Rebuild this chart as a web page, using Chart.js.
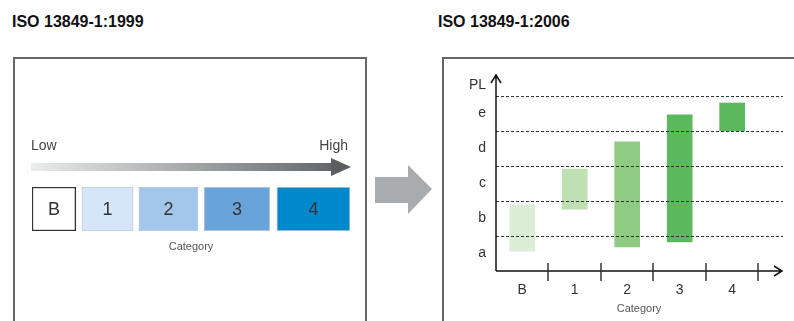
<!DOCTYPE html>
<html>
<head>
<meta charset="utf-8">
<script src="https://cdn.jsdelivr.net/npm/chart.js"></script>
<style>
  body { margin: 0; width: 794px; height: 321px; overflow: hidden; background: #fff; position: relative; font-family: "Liberation Sans", Arial, sans-serif; }
  .title { position: absolute; top: 13px; font-weight: bold; font-size: 16px; color: #111; }
  .panel { position: absolute; top: 57px; height: 300px; border: 2px solid #666; }
  canvas { position: absolute; }
  #midArrow { position: absolute; left: 375px; top: 165px; width: 57px; height: 49px; background: #a9acae;
    clip-path: polygon(0 12px, 33px 12px, 33px 0, 57px 24px, 33px 49px, 33px 38px, 0 38px); }
</style>
</head>
<body>
<div class="title" style="left:12px">ISO 13849-1:1999</div>
<div class="title" style="left:438px">ISO 13849-1:2006</div>
<div class="panel" style="left:13px; width:350px"></div>
<div class="panel" style="left:442px; width:400px"></div>
<div id="midArrow"></div>
<canvas id="oldChart" width="348" height="259" style="left:16px; top:60px"></canvas>
<canvas id="newChart" width="350" height="261" style="left:444px; top:60px"></canvas>
<script>
//==================== data ====================
// old standard: categories shown as boxes along a Low -> High scale (0..100)
var oldCats = ['B', '1', '2', '3', '4'];
var oldStart = [0, 15.7, 33.6, 54.1, 77.0];
var oldEnd = [13.8, 31.8, 52.2, 74.8, 100];
var oldColors = ['#ffffff', '#d4e6f7', '#a3c7ea', '#68a3d9', '#0088cc'];

// new standard: PL range reached by each category (a=0..1, b=1..2, ... e=4..5)
var newCats = ['B', '1', '2', '3', '4'];
var plLow = [0.57, 1.77, 0.69, 0.83, 4.0];
var plHigh = [1.89, 2.91, 3.69, 4.46, 4.8];
var newColors = ['#dcedd5', '#bfe0b2', '#90cb84', '#5cb85c', '#5cb85c'];
var plLabels = ['a', 'b', 'c', 'd', 'e', 'PL'];
var plTickVals = [0.5, 1.5, 2.5, 3.5, 4.5, 5.3];
var plLevels = [1, 2, 3, 4, 5];

var FONT = '"Liberation Sans", Arial, sans-serif';

//==================== old chart ====================
var oldDatasets = oldCats.map(function(c, i) {
    return {
        label: c,
        data: [[oldStart[i], oldEnd[i]]],
        backgroundColor: oldColors[i],
        borderColor: i === 0 ? '#333333' : '#c5ccd3',
        borderWidth: i === 0 ? 1.5 : 1,
        borderSkipped: false,
        grouped: false,
        barPercentage: 1,
        categoryPercentage: 1
    };
});

var oldDecor = {
    id: 'oldDecor',
    afterDatasetsDraw: function(chart) {
        var ctx = chart.ctx;
        var a = chart.chartArea;
        ctx.save();
        // box labels
        ctx.font = '18px ' + FONT;
        ctx.fillStyle = '#333';
        ctx.textAlign = 'center';
        ctx.textBaseline = 'middle';
        chart.data.datasets.forEach(function(ds, i) {
            var el = chart.getDatasetMeta(i).data[0];
            ctx.fillText(ds.label, (el.x + el.base) / 2, el.y + 1);
        });
        // Low / High
        ctx.font = '14px ' + FONT;
        ctx.fillStyle = '#444';
        ctx.textBaseline = 'alphabetic';
        ctx.textAlign = 'left';
        ctx.fillText('Low', a.left - 1, a.top - 37);
        ctx.textAlign = 'right';
        ctx.fillText('High', a.right - 2, a.top - 37);
        // gradient arrow
        var cy = a.top - 20;
        var tip = a.right + 1;
        var g = ctx.createLinearGradient(a.left, 0, tip, 0);
        g.addColorStop(0, '#ebecec');
        g.addColorStop(1, '#5b5f62');
        ctx.fillStyle = g;
        ctx.fillRect(a.left - 1, cy - 4, tip - 20 - a.left + 1, 8);
        ctx.fillStyle = '#5b5f62';
        ctx.beginPath();
        ctx.moveTo(tip - 20, cy - 9);
        ctx.lineTo(tip, cy);
        ctx.lineTo(tip - 20, cy + 9);
        ctx.closePath();
        ctx.fill();
        ctx.restore();
    }
};

new Chart(document.getElementById('oldChart'), {
    type: 'bar',
    data: { labels: ['row'], datasets: oldDatasets },
    options: {
        responsive: false,
        animation: false,
        indexAxis: 'y',
        layout: { padding: { left: 16, right: 14, top: 127, bottom: 58 } },
        plugins: { legend: { display: false }, tooltip: { enabled: false } },
        scales: {
            x: {
                type: 'linear', min: 0, max: 100,
                grid: { display: false, drawTicks: false },
                border: { display: false },
                ticks: { display: false },
                title: { display: true, text: 'Category', color: '#555', font: { family: FONT, size: 11 }, padding: { top: 0, bottom: 7 } },
                afterFit: function(s) { s.height = 30; }
            },
            y: { display: false }
        }
    },
    plugins: [oldDecor]
});

//==================== new chart ====================
var newDecor = {
    id: 'newDecor',
    afterDatasetsDraw: function(chart) {
        var ctx = chart.ctx;
        var a = chart.chartArea;
        var x = chart.scales.x, y = chart.scales.y;
        ctx.save();
        // PL level boundaries
        ctx.strokeStyle = '#333';
        ctx.lineWidth = 1;
        ctx.setLineDash([3, 2]);
        plLevels.forEach(function(v) {
            var py = Math.round(y.getPixelForValue(v)) + 0.5;
            ctx.beginPath();
            ctx.moveTo(a.left, py);
            ctx.lineTo(a.right + 1, py);
            ctx.stroke();
        });
        ctx.setLineDash([]);
        // axes with arrows
        ctx.strokeStyle = '#111';
        ctx.lineWidth = 1.5;
        ctx.beginPath();
        ctx.moveTo(a.left, a.bottom);
        ctx.lineTo(a.left, a.top);
        ctx.moveTo(a.left - 5, a.top + 8);
        ctx.lineTo(a.left, a.top);
        ctx.lineTo(a.left + 5, a.top + 8);
        ctx.moveTo(a.left, a.bottom);
        ctx.lineTo(a.right, a.bottom);
        ctx.moveTo(a.right - 8, a.bottom - 5);
        ctx.lineTo(a.right, a.bottom);
        ctx.lineTo(a.right - 8, a.bottom + 5);
        ctx.stroke();
        // category boundary ticks
        ctx.strokeStyle = '#333';
        newCats.forEach(function(c, i) {
            var px = Math.round(x.getPixelForValue(i + 0.5));
            ctx.beginPath();
            ctx.moveTo(px, a.bottom - 8);
            ctx.lineTo(px, a.bottom + 10);
            ctx.stroke();
        });
        ctx.restore();
    }
};

new Chart(document.getElementById('newChart'), {
    type: 'bar',
    data: {
        datasets: [{
            data: newCats.map(function(c, i) { return { x: i, y: [plLow[i], plHigh[i]] }; }),
            backgroundColor: newColors,
            borderWidth: 0,
            barThickness: 25
        }]
    },
    options: {
        responsive: false,
        animation: false,
        layout: { padding: { left: 0, right: 12, top: 15, bottom: 0 } },
        plugins: { legend: { display: false }, tooltip: { enabled: false } },
        scales: {
            x: {
                type: 'linear', min: -0.5, max: 4.95, offset: false,
                grid: { display: false, drawTicks: false },
                border: { display: false },
                afterBuildTicks: function(s) { s.ticks = newCats.map(function(c, i) { return { value: i }; }); },
                ticks: {
                    autoSkip: false, maxRotation: 0, padding: 11, color: '#333',
                    font: { family: FONT, size: 14 },
                    callback: function(v, i) { return newCats[i]; }
                },
                title: { display: true, text: 'Category', color: '#555', font: { family: FONT, size: 11 }, padding: { top: 0, bottom: 5 } },
                afterFit: function(s) { s.height = 50; s.paddingLeft = 0; s.paddingRight = 0; }
            },
            y: {
                type: 'linear', min: 0, max: 5.6,
                grid: { display: false, drawTicks: false },
                border: { display: false },
                afterBuildTicks: function(s) { s.ticks = plTickVals.map(function(v) { return { value: v }; }); },
                ticks: {
                    autoSkip: false, padding: 10, color: '#333',
                    font: { family: FONT, size: 14 },
                    callback: function(v, i) { return plLabels[i]; }
                },
                afterFit: function(s) { s.width = 52; s.paddingTop = 0; s.paddingBottom = 0; }
            }
        }
    },
    plugins: [newDecor]
});
</script>
</body>
</html>
